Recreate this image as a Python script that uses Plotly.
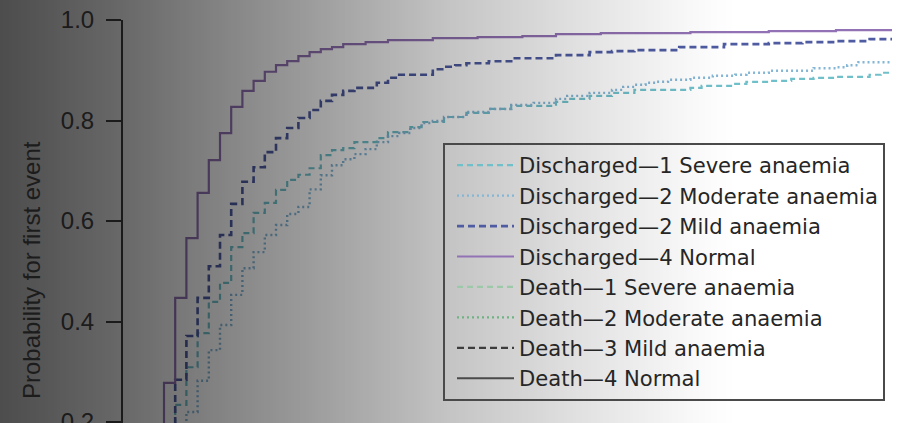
import plotly.graph_objects as go
import numpy as np

# ---------------- data ----------------
# time in days since admission (step times), cumulative probability after the step
t_dis_severe = [0, 1, 2, 3, 4, 5, 6, 7, 8, 9, 10, 11, 12, 13, 14, 15, 16, 17, 18, 20, 21, 23, 24, 26, 28,
                30, 32, 36, 37, 39, 41, 43, 48, 49, 52, 53, 55, 57, 59, 61, 64, 65, 66]
p_dis_severe = [0.0, 0.12, 0.234, 0.309, 0.377, 0.439, 0.477, 0.548, 0.576, 0.616, 0.636, 0.662, 0.682,
                0.692, 0.705, 0.731, 0.741, 0.745, 0.757, 0.765, 0.777, 0.787, 0.797, 0.807, 0.815,
                0.823, 0.829, 0.837, 0.843, 0.849, 0.855, 0.861, 0.865, 0.869, 0.873, 0.877, 0.879,
                0.883, 0.885, 0.887, 0.891, 0.895, 0.895]

t_dis_moderate = [0, 2, 3, 4, 5, 6, 7, 8, 9, 10, 11, 12, 13, 14, 15, 16, 17, 18, 19, 20, 21, 22, 23, 24,
                  25, 26, 28, 30, 32, 34, 36, 37, 39, 41, 42, 43, 44, 45, 46, 48, 50, 52, 53, 55, 59,
                  61, 62, 63, 66]
p_dis_moderate = [0.0, 0.15, 0.220, 0.282, 0.343, 0.393, 0.453, 0.506, 0.538, 0.572, 0.592, 0.614, 0.628,
                  0.663, 0.691, 0.711, 0.723, 0.733, 0.743, 0.757, 0.769, 0.775, 0.785, 0.795, 0.799,
                  0.807, 0.817, 0.823, 0.831, 0.835, 0.843, 0.849, 0.855, 0.861, 0.867, 0.871, 0.875,
                  0.877, 0.881, 0.885, 0.889, 0.891, 0.895, 0.899, 0.904, 0.906, 0.910, 0.916, 0.916]

t_dis_mild = [0, 1, 2, 3, 4, 5, 6, 7, 8, 9, 10, 11, 12, 13, 14, 15, 16, 17, 18, 20, 21, 22, 25, 26, 27,
              28, 30, 32, 36, 39, 41, 43, 47, 51, 55, 58, 61, 64, 66]
p_dis_mild = [0.0, 0.12, 0.284, 0.371, 0.447, 0.510, 0.572, 0.634, 0.678, 0.707, 0.737, 0.765, 0.785,
              0.805, 0.821, 0.839, 0.851, 0.859, 0.865, 0.875, 0.885, 0.891, 0.902, 0.907, 0.910,
              0.914, 0.918, 0.924, 0.930, 0.936, 0.938, 0.940, 0.946, 0.952, 0.954, 0.956, 0.958,
              0.962, 0.962]

t_dis_normal = [0, 1, 2, 3, 4, 5, 6, 7, 8, 9, 10, 11, 12, 13, 14, 15, 16, 17, 19, 21, 25, 29, 33, 36,
                40, 48, 55, 61, 66]
p_dis_normal = [0.0, 0.278, 0.447, 0.566, 0.656, 0.721, 0.775, 0.827, 0.859, 0.879, 0.897, 0.910,
                0.918, 0.928, 0.936, 0.942, 0.946, 0.952, 0.956, 0.960, 0.964, 0.966, 0.968, 0.972,
                0.974, 0.976, 0.978, 0.980, 0.980]

# death curves stay far below the visible part of the axis
t_death_severe = [0, 1, 2, 4, 8, 15, 30, 66]
p_death_severe = [0.0, 0.03, 0.05, 0.06, 0.07, 0.075, 0.08, 0.08]
t_death_moderate = [0, 1, 2, 4, 8, 15, 30, 66]
p_death_moderate = [0.0, 0.02, 0.03, 0.035, 0.04, 0.045, 0.05, 0.05]
t_death_mild = [0, 1, 2, 4, 8, 15, 30, 66]
p_death_mild = [0.0, 0.01, 0.015, 0.02, 0.025, 0.028, 0.03, 0.03]
t_death_normal = [0, 1, 2, 4, 8, 15, 30, 66]
p_death_normal = [0.0, 0.005, 0.008, 0.01, 0.012, 0.014, 0.015, 0.015]

series_names = [
    "Discharged\u20141 Severe anaemia",
    "Discharged\u20142 Moderate anaemia",
    "Discharged\u20142 Mild anaemia",
    "Discharged\u20144 Normal",
    "Death\u20141 Severe anaemia",
    "Death\u20142 Moderate anaemia",
    "Death\u20143 Mild anaemia",
    "Death\u20144 Normal",
]
y_tick_vals = [0.2, 0.4, 0.6, 0.8, 1.0]
y_tick_text = ["0.2", "0.4", "0.6", "0.8", "1.0"]
y_title = "Probability for first event"

# ---------------- styling ----------------
series = [
    (t_dis_severe, p_dis_severe, "#70c0ca", "6px,4px", 2.2),
    (t_dis_moderate, p_dis_moderate, "#84b6d6", "2px,3px", 2.4),
    (t_dis_mild, p_dis_mild, "#4f5ca2", "7px,4px", 2.6),
    (t_dis_normal, p_dis_normal, "#9272b4", "solid", 2.2),
    (t_death_severe, p_death_severe, "#9ccaa8", "6px,4px", 2.2),
    (t_death_moderate, p_death_moderate, "#6fb383", "2px,3px", 2.4),
    (t_death_mild, p_death_mild, "#3d3d3d", "7px,4px", 2.2),
    (t_death_normal, p_death_normal, "#4a4a4a", "solid", 2.0),
]

W, H = 901, 423
L, R, T, B = 123, 0, 20, 0
PW = W - L - R
PH = H - T - B
FONT = "Liberation Sans, Arial, Helvetica, sans-serif"
LEG_FONT = "DejaVu Sans, Liberation Sans, sans-serif"

fig = go.Figure()
for (tx, py, col, dash, lw), name in zip(series, series_names):
    fig.add_trace(go.Scatter(
        x=tx, y=py, mode="lines", name=name, line_shape="hv",
        line=dict(color=col, width=lw, dash=dash),
    ))

# x: 11.2 px per day, day 1 at 164 px
px_per_day = 11.2
x_day1 = 164.0
x_lo = 1 + (L - x_day1) / px_per_day
x_hi = 1 + (W - R - x_day1) / px_per_day

# y: 1.0 at 20 px, 502.5 px per unit
y_hi = 1.0
y_lo = 1.0 - PH / 502.5

fig.update_layout(
    width=W, height=H,
    margin=dict(l=L, r=R, t=T, b=B, pad=0),
    paper_bgcolor="white", plot_bgcolor="rgba(0,0,0,0)",
    font=dict(family=FONT, size=24, color="#4d4d4d"),
    showlegend=True,
    legend=dict(
        x=(443 - L) / PW, y=(H - 143) / PH, xanchor="left", yanchor="top",
        bgcolor="rgba(0,0,0,0)", bordercolor="#4a4a4a", borderwidth=2,
        font=dict(family=LEG_FONT, size=21.1, color="#262626"),
        tracegroupgap=0, itemwidth=57, indentation=7,
    ),
    xaxis=dict(visible=False, range=[x_lo, x_hi], fixedrange=True),
    yaxis=dict(
        range=[y_lo, y_hi], showgrid=False, zeroline=False, fixedrange=True,
        showline=True, linecolor="#444444", linewidth=2,
        ticks="outside", ticklen=15, tickwidth=2, tickcolor="#444444",
        tickvals=y_tick_vals, ticktext=y_tick_text, ticklabelstandoff=7,
        ticklabeloverflow="allow",
        tickfont=dict(family=FONT, size=24, color="#4d4d4d"),
        automargin=False,
    ),
)

fig.add_annotation(
    text=y_title, textangle=-90, showarrow=False,
    xref="paper", yref="y", x=(31 - L) / PW, y=1.0 - (270 - 20) / 502.5,
    xanchor="center", yanchor="middle",
    font=dict(family=FONT, size=24, color="#1c1c1c"),
)

# darkening gradient overlay (dark on the left, fading to none on the right)
grad_px = [0, 123, 300, 450, 600, 700, 735]
grad_a = [0.70, 0.59, 0.40, 0.23, 0.10, 0.02, 0.0]
step = 3
for px in range(0, 735, step):
    a = float(np.interp(px + step / 2, grad_px, grad_a))
    if a <= 0.002:
        continue
    fig.add_shape(
        type="rect", xref="paper", yref="paper", layer="above",
        x0=(px - L) / PW, x1=(px + step - L) / PW, y0=-0.01, y1=(H + 5) / PH,
        fillcolor=f"rgba(0,0,0,{a:.3f})", line=dict(width=0),
    )

fig.write_html(
    "out.html",
    config={"displayModeBar": False, "staticPlot": True},
    post_script="document.body.style.margin='0';document.body.style.overflow='hidden';",
)
